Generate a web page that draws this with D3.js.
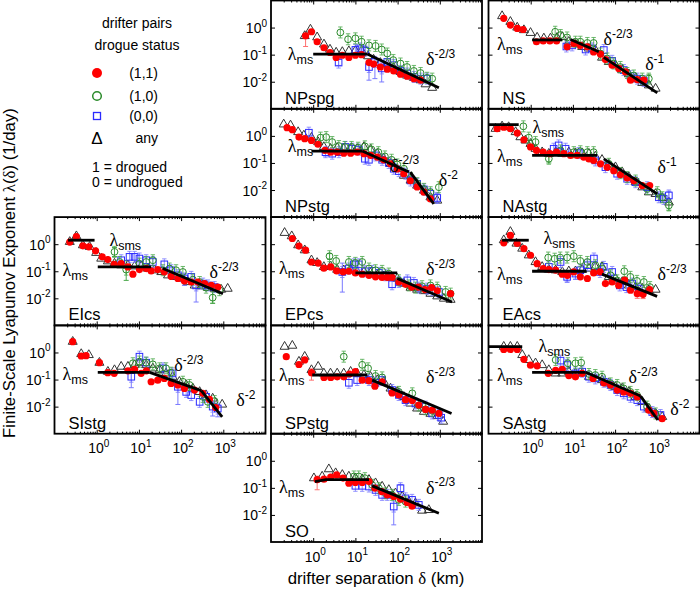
<!DOCTYPE html>
<html><head><meta charset="utf-8">
<script src="https://cdn.jsdelivr.net/npm/d3@7"></script>
<style>body{margin:0;background:#fff}svg{display:block}text{font-family:"Liberation Sans",Arial,sans-serif}</style>
</head><body>
<svg id="chart" width="700" height="594"></svg>
<script>
// ---------- tick labels ----------
const xTickVals = [1, 10, 100, 1000];
const xTickExps = ["0", "1", "2", "3"];
const yTickVals = [1, 0.1, 0.01];
const yTickExps = ["0", "-1", "-2"];

// ---------- data: [delta (km), lambda (1/day)] ----------
const NPspg_any = [[0.63,0.49],[0.86,0.85],[1.24,0.44],[1.8,0.24],[2.5,0.155],[3.5,0.12],[4.9,0.126],[7,0.135],[10,0.14],[14,0.14],[20,0.088],[27,0.066],[39,0.05],[57,0.045],[81,0.032],[117,0.023],[168,0.017],[243,0.014],[350,0.0114],[460,0.0081],[660,0.006]];
const NPspg_11 = [[0.66,0.5],[0.91,0.7],[1.24,0.3],[1.8,0.18],[2.5,0.12],[3.5,0.079],[4.9,0.095],[7,0.079],[10,0.095],[14,0.1],[21,0.051],[27,0.045],[39,0.035],[57,0.029],[81,0.025],[117,0.019],[168,0.016],[243,0.013],[350,0.0114]];
const NPspg_10 = [[4.4,0.66],[6.7,0.37],[10,0.4],[14,0.3],[21,0.22],[30,0.21],[42,0.155],[57,0.11],[79,0.063],[117,0.047],[168,0.035],[243,0.025],[350,0.021],[500,0.014],[660,0.013]];
const NPspg_00 = [[4,0.051],[10,0.15],[13,0.17],[17,0.14],[21,0.035],[29,0.054],[42,0.031],[57,0.054],[81,0.041],[117,0.025],[168,0.02],[243,0.015],[350,0.013],[500,0.013]];
const NPspg_err = [["11",0.66,0.2,0.5],["00",4,0.04,0.07],["00",17,0.1,0.2],["00",21,0.0114,0.05],["00",29,0.013,0.07],["00",42,0.0098,0.045]];
const NPspg_fit = [[[1,0.105],[19,0.105]],[[19,0.105],[950,0.006]]];
const NPspg_lab = [["lam","ms",0.25,0.0625],["pow","-2/3",471,0.041]];

const NPstg_any = [[0.2,2.67],[0.29,2.45],[0.44,1.39],[0.6,1.04],[0.91,0.86],[1.31,0.59],[1.79,0.39],[2.57,0.335],[3.7,0.365],[5.3,0.335],[7.7,0.335],[11,0.335],[15.9,0.39],[22.8,0.31],[33,0.22],[47,0.143],[68,0.093],[98,0.061],[141,0.034],[203,0.0225],[290,0.0147],[420,0.0096],[600,0.0054],[870,0.0041]];
const NPstg_11 = [[0.24,2.0],[0.32,1.7],[0.46,0.9],[0.63,0.79],[0.91,0.68],[1.3,0.49],[1.9,0.29],[2.6,0.25],[3.7,0.25],[5.3,0.23],[7.7,0.23],[11,0.25],[16,0.22],[23,0.19],[33,0.165],[47,0.13],[68,0.093],[98,0.06],[140,0.04],[200,0.022],[290,0.013],[420,0.0083],[600,0.0047]];
const NPstg_10 = [[1.49,0.86],[2.03,0.9],[2.82,0.59],[4.06,0.42],[5.6,0.39],[8.1,0.39],[11.6,0.365],[16.8,0.41],[24,0.316],[35,0.25],[50,0.174],[72,0.131],[98,0.088],[141,0.061],[203,0.028],[290,0.0178],[420,0.011],[600,0.0083],[950,0.0127]];
const NPstg_00 = [[0.79,1.31],[1.96,0.25],[2.82,0.22],[4.06,0.25],[5.8,0.39],[8.4,0.335],[12.1,0.31],[16.8,0.143],[20.9,0.131],[30,0.19],[43,0.131],[62,0.1],[81,0.061],[107,0.05],[154,0.04],[203,0.0225],[290,0.017],[420,0.0105],[600,0.0072],[870,0.0051]];
const NPstg_err = [["00",1.96,0.18,0.33],["00",870,0.0035,0.0075]];
const NPstg_fit = [[[0.91,0.275],[14.5,0.275]],[[14.5,0.275],[185,0.046]],[[200,0.046],[720,0.0031]]];
const NPstg_lab = [["lam","ms",0.25,0.245],["pow","-2/3",66,0.048],["pow","-2",950,0.0135]];

const NS_any = [[0.21,2.67],[0.33,1.64],[0.48,1.01],[0.69,0.81],[0.99,0.64],[1.42,0.43],[2.05,0.4],[2.94,0.4],[4.2,0.42],[5.6,0.45],[8,0.3],[11.5,0.245],[16.6,0.195],[24,0.169],[34,0.147],[49,0.078],[71,0.054],[102,0.041],[147,0.0267],[212,0.019],[305,0.0131],[440,0.0091],[630,0.0074],[910,0.0056]];
const NS_11 = [[0.23,2.2],[0.33,1.24],[0.48,0.93],[0.66,0.85],[1.37,0.3],[1.98,0.32],[2.85,0.32],[4.1,0.32],[7.3,0.195],[10.6,0.26],[15,0.22],[22,0.195],[31,0.126],[45,0.105],[59,0.066],[85,0.041],[122,0.031],[176,0.023],[232,0.0114],[335,0.012],[480,0.0114]];
const NS_10 = [[3.8,0.7],[5.1,0.53],[7.3,0.43],[11.5,0.3],[15,0.3],[22,0.27],[31,0.27],[45,0.11],[65,0.072],[93,0.047],[133,0.035],[193,0.021],[277,0.017],[440,0.013],[630,0.013]];
const NS_00 = [[7,0.2],[9.6,0.22],[20,0.155],[28.6,0.17],[54,0.148],[85,0.059],[160,0.027],[232,0.016],[335,0.013],[480,0.0107]];
const NS_err = [["10",630,0.009,0.018]];
const NS_fit = [[[1.08,0.35],[5.6,0.35]],[[8.8,0.36],[41,0.127]],[[54,0.079],[1000,0.0039]]];
const NS_lab = [["lam","ms",0.16,0.147],["pow","-2/3",53,0.225],["pow","-1",515,0.026]];

const NAstg_any = [[0.147,1.84],[0.21,2.25],[0.3,2.12],[0.44,1.39],[0.57,0.9],[0.75,0.68],[0.99,0.51],[1.3,0.335],[1.87,0.25],[2.69,0.22],[3.9,0.25],[5.6,0.22],[8,0.25],[11.5,0.231],[16.6,0.231],[24,0.22],[34,0.174],[49,0.131],[71,0.088],[102,0.07],[147,0.046],[212,0.03],[305,0.0195],[440,0.0127],[630,0.0083],[910,0.0072],[1310,0.0051],[1880,0.0035]];
const NAstg_11 = [[0.16,1.85],[0.23,2.1],[0.33,1.85],[0.48,1.27],[0.69,0.72],[0.99,0.39],[1.37,0.29],[1.98,0.25],[2.85,0.22],[4.1,0.25],[6.1,0.22],[8.8,0.19],[12.6,0.19],[18,0.165],[24,0.14],[31,0.123],[45,0.093],[65,0.069],[93,0.052],[134,0.037],[193,0.028],[277,0.022],[440,0.0147],[660,0.0147]];
const NAstg_10 = [[0.67,2.25],[0.9,0.86],[1.3,0.59],[2.69,0.143],[5.1,0.29],[10.5,0.25],[15,0.27],[22,0.25],[31,0.25],[71,0.093],[134,0.042],[193,0.03],[305,0.0224],[575,0.011],[1000,0.0083],[1310,0.0054],[1880,0.0027]];
const NAstg_00 = [[3.5,0.335],[4.6,0.445],[6.7,0.335],[13.8,0.231],[34,0.124],[59,0.07],[112,0.04],[193,0.026],[305,0.0195],[575,0.0127],[1090,0.0054],[1420,0.0047],[1880,0.0063]];
const NAstg_err = [["10",2.69,0.1,0.2],["10",1880,0.0018,0.004],["00",1880,0.0045,0.009]];
const NAstg_fit = [[[0.1,2.6],[0.52,2.6]],[[1.08,0.19],[37.5,0.19]],[[54,0.142],[1000,0.0072]]];
const NAstg_lab = [["lam","sms",1.1,1.24],["lam","ms",0.16,0.105],["pow","-1",1010,0.041]];

const EIcs_any = [[0.23,1.22],[0.33,1.98],[0.47,0.92],[0.68,0.8],[0.97,0.48],[1.28,0.295],[1.84,0.234],[2.64,0.192],[3.8,0.167],[5.5,0.167],[7.9,0.153],[11.3,0.153],[16.3,0.126],[23.5,0.109],[34,0.094],[49,0.071],[70,0.062],[100,0.054],[145,0.04],[210,0.03],[300,0.028],[430,0.0248],[620,0.0228],[890,0.021],[1270,0.0228]];
const EIcs_11 = [[0.23,1.2],[0.33,1.9],[0.47,0.87],[0.65,0.8],[0.94,0.57],[1.35,0.34],[1.83,0.27],[2.6,0.18],[3.8,0.19],[5.5,0.145],[7.2,0.078],[10.3,0.115],[15,0.126],[19.5,0.103],[28,0.115],[40,0.095],[58,0.065],[84,0.054],[120,0.044],[175,0.04],[250,0.04],[360,0.035],[520,0.03],[740,0.026]];
const EIcs_10 = [[2.64,0.52],[3.5,0.22],[5,0.115],[10.3,0.19],[14.9,0.22],[21.4,0.255],[37,0.109],[53,0.126],[76,0.109],[110,0.094],[190,0.049],[275,0.04],[390,0.0248],[560,0.0106],[810,0.02]];
const EIcs_00 = [[3.8,0.255],[6,0.34],[7.9,0.34],[10.3,0.295],[14.9,0.255],[21.4,0.22],[40,0.18],[58,0.109],[84,0.071],[120,0.054],[174,0.062],[227,0.03],[330,0.035],[430,0.03],[620,0.026]];
const EIcs_err = [["10",5,0.046,0.25],["10",560,0.0065,0.022],["00",227,0.0073,0.045],["00",120,0.03,0.08],["10",2.64,0.35,0.75]];
const EIcs_fit = [[[0.21,1.4],[0.89,1.4]],[[1.06,0.145],[19.5,0.145]],[[37,0.126],[980,0.0148]]];
const EIcs_lab = [["lam","sms",2.0,0.84],["lam","ms",0.155,0.065],["pow","-2/3",471,0.055]];

const SIstg_any = [[0.27,2.5],[0.43,0.88],[0.65,0.81],[1.16,0.42],[1.84,0.195],[2.64,0.225],[3.8,0.3],[5.5,0.3],[7.9,0.344],[10.3,0.42],[14.9,0.344],[21.4,0.26],[31,0.225],[44,0.169],[63,0.127],[91,0.083],[132,0.063],[190,0.047],[275,0.035],[390,0.0267],[560,0.02],[940,0.012]];
const SIstg_11 = [[0.27,2.5],[0.43,0.74],[0.56,0.76],[1.16,0.42],[1.83,0.18],[2.6,0.17],[5.5,0.21],[7.9,0.24],[11.3,0.17],[15,0.21],[19.5,0.083],[28,0.095],[40,0.11],[58,0.072],[84,0.063],[120,0.047],[208,0.041],[327,0.031],[470,0.0185],[660,0.0093]];
const SIstg_10 = [[7.2,0.4],[10.3,0.46],[14.9,0.42],[21.4,0.365],[31,0.26],[44,0.26],[58,0.179],[110,0.083],[158,0.063],[327,0.023],[430,0.015],[620,0.016]];
const SIstg_00 = [[6.6,0.127],[10.3,0.7],[14.9,0.42],[37,0.26],[63,0.169],[84,0.054],[132,0.035],[174,0.0267],[275,0.015],[390,0.023],[560,0.01],[740,0.0085]];
const SIstg_err = [["00",6.6,0.05,0.2],["00",84,0.012,0.08],["00",560,0.0045,0.014],["00",740,0.0042,0.012]];
const SIstg_fit = [[[1.06,0.185],[18,0.185]],[[18,0.185],[300,0.039]],[[300,0.039],[940,0.0042]]];
const SIstg_lab = [["lam","ms",0.155,0.095],["pow","-2/3",69,0.206],["pow","-2",2040,0.0104]];

const EPcs_any = [[0.21,2.63],[0.31,1.98],[0.44,0.92],[0.63,0.6],[0.91,0.255],[1.24,0.204],[1.79,0.145],[2.57,0.153],[3.7,0.115],[5.3,0.109],[7.7,0.115],[11,0.094],[15.9,0.094],[22.8,0.087],[33,0.071],[47,0.065],[68,0.058],[98,0.054],[141,0.035],[203,0.0248],[290,0.021],[420,0.0186],[600,0.0149],[870,0.0119],[1250,0.0098],[1800,0.0089]];
const EPcs_11 = [[0.32,1.62],[0.46,0.85],[0.66,0.6],[0.91,0.22],[1.31,0.2],[1.79,0.13],[2.6,0.145],[3.6,0.103],[5.1,0.095],[7,0.1],[10,0.087],[14.5,0.078],[21,0.071],[30,0.062],[43,0.059],[57,0.059],[74,0.059],[107,0.04],[154,0.033],[215,0.026],[310,0.026],[445,0.021],[640,0.025],[870,0.019],[1800,0.0148]];
const EPcs_10 = [[2.44,0.36],[3.5,0.24],[7,0.22],[10,0.204],[14.5,0.22],[21,0.126],[30,0.109],[43,0.103],[62,0.082],[107,0.046],[185,0.03],[265,0.0248],[380,0.028],[600,0.03],[870,0.0248],[1370,0.0172],[1800,0.0149]];
const EPcs_00 = [[4.9,0.094],[7,0.126],[9.2,0.18],[12,0.18],[16.8,0.1],[25,0.103],[36,0.087],[52,0.071],[74,0.033],[107,0.04],[170,0.046],[243,0.037],[318,0.0248],[500,0.0228],[660,0.02],[950,0.0172]];
const EPcs_err = [["00",4.9,0.017,0.2],["10",2.44,0.28,0.45]];
const EPcs_fit = [[[10,0.087],[98,0.087]],[[98,0.054],[1950,0.0073]]];
const EPcs_lab = [["lam","ms",0.155,0.076],["pow","-2/3",471,0.071]];

const SPstg_any = [[0.21,1.64],[0.32,1.79],[0.46,0.46],[0.63,0.7],[0.91,0.225],[1.31,0.3],[1.79,0.169],[2.57,0.169],[3.7,0.169],[5.3,0.169],[7.7,0.195],[11,0.169],[15.9,0.147],[22.8,0.127],[33,0.096],[47,0.083],[68,0.047],[98,0.035],[141,0.023],[203,0.0131],[290,0.0086],[420,0.0065],[600,0.0055],[870,0.0045],[1200,0.0028]];
const SPstg_11 = [[0.23,0.7],[0.46,0.36],[0.63,0.53],[0.91,0.18],[1.8,0.12],[2.6,0.12],[3.7,0.126],[5.3,0.126],[7.2,0.16],[10,0.195],[14.5,0.095],[21,0.091],[29,0.057],[43,0.083],[74,0.032],[107,0.027],[154,0.018],[223,0.017],[318,0.0114],[460,0.0079],[660,0.0074],[950,0.0056]];
const SPstg_10 = [[5.3,0.7],[14.5,0.35],[20,0.26],[30,0.135],[43,0.12],[107,0.035],[223,0.031],[318,0.011],[460,0.008],[660,0.007]];
const SPstg_00 = [[7,0.076],[11,0.096],[21,0.096],[30,0.076],[43,0.096],[74,0.041],[107,0.027],[154,0.0174],[265,0.0131],[460,0.01],[660,0.0056],[950,0.0049],[1080,0.0039]];
const SPstg_err = [["11",0.91,0.095,0.25]];
const SPstg_fit = [[[0.95,0.147],[19,0.147]],[[25,0.095],[1900,0.0056]]];
const SPstg_lab = [["lam","ms",0.155,0.088],["pow","-2/3",471,0.074]];

const SAstg_any = [[0.23,1.64],[0.33,1.64],[0.48,1.64],[0.63,0.81],[0.9,0.53],[1.3,0.4],[1.87,0.344],[2.69,0.225],[3.9,0.169],[5.6,0.169],[8,0.195],[11.5,0.169],[16.6,0.169],[24,0.127],[34,0.11],[49,0.096],[71,0.072],[102,0.054],[147,0.047],[212,0.035],[305,0.023],[440,0.015],[630,0.0085],[910,0.0056],[1310,0.0042]];
const SAstg_11 = [[0.23,1.3],[0.33,1.3],[0.48,1.3],[0.69,0.56],[0.99,0.34],[1.42,0.32],[2.6,0.17],[3.9,0.22],[5.6,0.24],[8,0.14],[11.5,0.126],[16.5,0.17],[30,0.11],[54,0.076],[78,0.063],[112,0.041],[160,0.035],[232,0.031],[335,0.023],[630,0.0074],[830,0.0056],[1300,0.0036]];
const SAstg_10 = [[3.9,0.53],[7.6,0.4],[11.5,0.4],[15.7,0.42],[24,0.16],[34,0.147],[49,0.127],[78,0.072],[112,0.063],[160,0.047],[230,0.035],[330,0.0267],[575,0.01],[910,0.0056]];
const SAstg_00 = [[5.1,0.5],[7.3,0.344],[11.5,0.169],[16.6,0.195],[24,0.127],[34,0.11],[54,0.083],[78,0.063],[112,0.041],[160,0.031],[232,0.023],[335,0.0174],[480,0.01],[760,0.0063],[1190,0.0049]];
const SAstg_err = [];
const SAstg_fit = [[[0.1,1.65],[0.63,1.65]],[[1.08,0.185],[20,0.185]],[[20,0.185],[400,0.0245]],[[400,0.0245],[1030,0.0032]]];
const SAstg_lab = [["lam","sms",1.53,1.04],["lam","ms",0.16,0.088],["pow","-2/3",208,0.074],["pow","-2",2040,0.0049]];

const EAcs_any = [[0.23,1.41],[0.33,2.86],[0.46,1.06],[0.63,0.69],[0.9,0.39],[1.3,0.22],[1.87,0.145],[2.69,0.115],[3.9,0.109],[5.6,0.094],[8,0.1],[11.5,0.1],[16.6,0.115],[24,0.126],[34,0.145],[49,0.145],[71,0.062],[102,0.054],[147,0.04],[212,0.03],[305,0.026],[440,0.023],[630,0.02],[910,0.021]];
const EAcs_11 = [[0.23,1.12],[0.33,2.1],[0.48,1.06],[0.69,0.69],[0.99,0.39],[1.42,0.19],[1.98,0.126],[2.7,0.115],[3.9,0.11],[5.6,0.078],[7.4,0.071],[10.5,0.095],[15,0.062],[22,0.054],[31,0.087],[44,0.095],[59,0.035],[85,0.04],[122,0.03],[168,0.047],[232,0.02],[335,0.0148],[460,0.0141],[660,0.021]];
const EAcs_10 = [[2.6,0.32],[3.7,0.29],[5,0.32],[7.3,0.32],[10.5,0.36],[15,0.24],[22,0.22],[34,0.167],[49,0.126],[78,0.071],[112,0.046],[165,0.1],[230,0.062],[330,0.044],[480,0.04],[670,0.026]];
const EAcs_00 = [[2.69,0.145],[5.1,0.22],[7.3,0.062],[11.5,0.082],[15,0.109],[22,0.167],[31.5,0.295],[44,0.094],[54,0.145],[85,0.094],[129,0.03],[186,0.026],[253,0.035],[365,0.023]];
const EAcs_err = [["00",7.3,0.04,0.1],["00",11.5,0.05,0.11],["11",335,0.01,0.02],["11",460,0.0098,0.02]];
const EAcs_fit = [[[0.21,1.4],[0.9,1.4]],[[1.08,0.1],[21,0.1]],[[49,0.078],[990,0.0118]]];
const EAcs_lab = [["lam","sms",2.0,1.0],["lam","ms",0.16,0.047],["pow","-2/3",1010,0.047]];

const SO_any = [[1.04,0.228],[1.63,0.263],[2.35,0.49],[3.4,0.35],[4.9,0.303],[7,0.263],[10,0.228],[14.5,0.21],[21,0.198],[30,0.149],[43,0.112],[62,0.084],[89,0.063],[129,0.048],[185,0.031],[265,0.027],[380,0.0145],[550,0.0153]];
const SO_11 = [[1.24,0.2],[1.8,0.21],[2.6,0.25],[3.6,0.3],[5.1,0.23],[7,0.148],[10,0.158],[14.5,0.158],[21,0.17],[29,0.098],[42,0.073],[57,0.055],[81,0.048],[117,0.038],[168,0.029],[220,0.021]];
const SO_10 = [[9.2,0.263],[12,0.263],[16.8,0.228],[25,0.129],[36,0.097],[52,0.063],[74,0.055],[107,0.036],[154,0.031]];
const SO_00 = [[10,0.119],[14.5,0.119],[21,0.112],[30,0.084],[43,0.055],[57,0.055],[81,0.0204],[117,0.097],[154,0.041],[220,0.036],[318,0.0235]];
const SO_err = [["11",1.24,0.085,0.27],["00",81,0.0043,0.055],["00",117,0.07,0.13]];
const SO_fit = [[[1.1,0.17],[2,0.2],[21,0.2]],[[25,0.118],[950,0.0115]]];
const SO_lab = [["lam","ms",0.155,0.065],["pow","-2/3",471,0.06]];

// ---------- layout ----------
const svg = d3.select("#chart");
const W = 211, H = 108.3;
const colL = [54.5, 271, 488.5];
const rowT = [0.5, 108.8, 217.1, 325.4, 433.7];
const SERIF = '"Liberation Serif","Times New Roman",serif';
const C = {r:"#ff0000", g:"#2a8a2a", gl:"#4aa84a", b:"#2b2bff", bl:"#7a7aff", rl:"#ff7070", k:"#333"};

const panels = [
  {n:"NPspg", c:1, r:0, any:NPspg_any, s11:NPspg_11, s10:NPspg_10, s00:NPspg_00, err:NPspg_err, fit:NPspg_fit, lab:NPspg_lab, yl:true,  xl:false},
  {n:"NS",    c:2, r:0, any:NS_any,    s11:NS_11,    s10:NS_10,    s00:NS_00,    err:NS_err,    fit:NS_fit,    lab:NS_lab,    yl:false, xl:false},
  {n:"NPstg", c:1, r:1, any:NPstg_any, s11:NPstg_11, s10:NPstg_10, s00:NPstg_00, err:NPstg_err, fit:NPstg_fit, lab:NPstg_lab, yl:true,  xl:false},
  {n:"NAstg", c:2, r:1, any:NAstg_any, s11:NAstg_11, s10:NAstg_10, s00:NAstg_00, err:NAstg_err, fit:NAstg_fit, lab:NAstg_lab, yl:false, xl:false},
  {n:"EIcs",  c:0, r:2, any:EIcs_any,  s11:EIcs_11,  s10:EIcs_10,  s00:EIcs_00,  err:EIcs_err,  fit:EIcs_fit,  lab:EIcs_lab,  yl:true,  xl:false},
  {n:"EPcs",  c:1, r:2, any:EPcs_any,  s11:EPcs_11,  s10:EPcs_10,  s00:EPcs_00,  err:EPcs_err,  fit:EPcs_fit,  lab:EPcs_lab,  yl:false, xl:false},
  {n:"EAcs",  c:2, r:2, any:EAcs_any,  s11:EAcs_11,  s10:EAcs_10,  s00:EAcs_00,  err:EAcs_err,  fit:EAcs_fit,  lab:EAcs_lab,  yl:false, xl:false},
  {n:"SIstg", c:0, r:3, any:SIstg_any, s11:SIstg_11, s10:SIstg_10, s00:SIstg_00, err:SIstg_err, fit:SIstg_fit, lab:SIstg_lab, yl:true,  xl:true},
  {n:"SPstg", c:1, r:3, any:SPstg_any, s11:SPstg_11, s10:SPstg_10, s00:SPstg_00, err:SPstg_err, fit:SPstg_fit, lab:SPstg_lab, yl:false, xl:false},
  {n:"SAstg", c:2, r:3, any:SAstg_any, s11:SAstg_11, s10:SAstg_10, s00:SAstg_00, err:SAstg_err, fit:SAstg_fit, lab:SAstg_lab, yl:false, xl:true},
  {n:"SO",    c:1, r:4, any:SO_any,    s11:SO_11,    s10:SO_10,    s00:SO_00,    err:SO_err,    fit:SO_fit,    lab:SO_lab,    yl:true,  xl:true}
];

function tenPow(g, px, py, e, anchor) {
  const t = g.append("text").attr("x", px).attr("y", py).attr("text-anchor", anchor).attr("font-size", 14);
  t.append("tspan").text("10");
  t.append("tspan").attr("dy", -6.5).attr("font-size", 10).text(e);
}

const triPath = "M0,-5.2L4.5,2.6L-4.5,2.6Z";
const whisk = "M0,-5.5V5.5M-2.2,-5.5H2.2M-2.2,5.5H2.2";

panels.forEach(p => {
  const L = colL[p.c], T = rowT[p.r];
  const x = d3.scaleLog().domain([0.1, 1e4]).range([L, L + W]);
  const y = d3.scaleLog().domain([1e-3, 10]).range([T + H, T]);
  const g = svg.append("g");
  const minor = x.ticks().filter(v => Math.abs(Math.log10(v) - Math.round(Math.log10(v))) > 1e-6);
  const noDom = a => a.select(".domain").remove();
  // x ticks (inward, top and bottom)
  g.append("g").attr("transform", `translate(0,${T + H})`).call(d3.axisBottom(x).tickValues(xTickVals).tickSize(-4).tickFormat("")).call(noDom);
  g.append("g").attr("transform", `translate(0,${T + H})`).call(d3.axisBottom(x).tickValues(minor).tickSize(-2).tickFormat("")).call(noDom);
  g.append("g").attr("transform", `translate(0,${T})`).call(d3.axisTop(x).tickValues(xTickVals).tickSize(-4).tickFormat("")).call(noDom);
  g.append("g").attr("transform", `translate(0,${T})`).call(d3.axisTop(x).tickValues(minor).tickSize(-2).tickFormat("")).call(noDom);
  // y ticks (inward, left and right)
  g.append("g").attr("transform", `translate(${L},0)`).call(d3.axisLeft(y).tickValues(yTickVals).tickSize(-4).tickFormat("")).call(noDom);
  g.append("g").attr("transform", `translate(${L + W},0)`).call(d3.axisRight(y).tickValues(yTickVals).tickSize(-4).tickFormat("")).call(noDom);

  // error bars
  const ecol = {"11": C.rl, "10": C.gl, "00": C.bl};
  p.err.forEach(e => {
    const ex = x(e[1]);
    g.append("path").attr("d", `M${ex},${y(e[2])}V${y(e[3])}M${ex - 2.5},${y(e[2])}H${ex + 2.5}M${ex - 2.5},${y(e[3])}H${ex + 2.5}`)
      .attr("stroke", ecol[e[0]]).attr("stroke-width", 1).attr("fill", "none");
  });
  // triangles (any)
  g.append("g").selectAll("path").data(p.any).join("path").attr("d", triPath)
    .attr("transform", d => `translate(${x(d[0])},${y(d[1])})`)
    .attr("fill", "none").attr("stroke", C.k).attr("stroke-width", 1);
  // blue squares (0,0)
  const gb = g.append("g").selectAll("g").data(p.s00).join("g").attr("transform", d => `translate(${x(d[0])},${y(d[1])})`);
  gb.append("path").attr("d", whisk).attr("stroke", C.bl).attr("stroke-width", 0.8).attr("fill", "none");
  gb.append("rect").attr("x", -3.3).attr("y", -3.3).attr("width", 6.6).attr("height", 6.6).attr("fill", "none").attr("stroke", C.b).attr("stroke-width", 1);
  // green circles (1,0)
  const gg = g.append("g").selectAll("g").data(p.s10).join("g").attr("transform", d => `translate(${x(d[0])},${y(d[1])})`);
  gg.append("path").attr("d", whisk).attr("stroke", C.gl).attr("stroke-width", 0.8).attr("fill", "none");
  gg.append("circle").attr("r", 3.4).attr("fill", "none").attr("stroke", C.g).attr("stroke-width", 1);
  // red filled circles (1,1)
  g.append("g").selectAll("circle").data(p.s11).join("circle")
    .attr("cx", d => x(d[0])).attr("cy", d => y(d[1])).attr("r", 3.6).attr("fill", C.r);
  // fit lines
  const line = d3.line().x(d => x(d[0])).y(d => y(d[1]));
  g.append("g").selectAll("path").data(p.fit).join("path").attr("d", line)
    .attr("fill", "none").attr("stroke", "#000").attr("stroke-width", 2.8);
  // frame
  g.append("rect").attr("x", L).attr("y", T).attr("width", W).attr("height", H)
    .attr("fill", "none").attr("stroke", "#000").attr("stroke-width", 1.8);
  // annotations
  p.lab.forEach(a => {
    const t = g.append("text").attr("x", x(a[2])).attr("y", y(a[3]));
    if (a[0] === "lam") {
      t.append("tspan").attr("font-family", SERIF).attr("font-size", 18).text("λ");
      t.append("tspan").attr("font-size", 12.5).attr("dy", 4).text(a[1]);
    } else {
      t.append("tspan").attr("font-family", SERIF).attr("font-size", 18).text("δ");
      t.append("tspan").attr("font-size", 12).attr("dy", -7.5).text(a[1]);
    }
  });
  g.append("text").attr("x", L + 14).attr("y", T + H - 5).attr("font-size", 16.5).text(p.n);
  // tick labels
  if (p.yl) yTickVals.forEach((v, i) => tenPow(g, L - 4, y(v) + 5.5, yTickExps[i], "end"));
  if (p.xl) xTickVals.forEach((v, i) => tenPow(g, x(v) + 2, T + H + 19.5, xTickExps[i], "middle"));
});

// ---------- axis titles ----------
const yt = svg.append("text").attr("transform", "translate(15,273) rotate(-90)").attr("text-anchor", "middle").attr("font-size", 16.8);
yt.append("tspan").text("Finite-Scale Lyapunov Exponent  ");
yt.append("tspan").attr("font-family", SERIF).text("λ");
yt.append("tspan").text("(");
yt.append("tspan").attr("font-family", SERIF).text("δ");
yt.append("tspan").text(") (1/day)");

const xt = svg.append("text").attr("x", 376).attr("y", 584).attr("text-anchor", "middle").attr("font-size", 16.8);
xt.append("tspan").text("drifter separation  ");
xt.append("tspan").attr("font-family", SERIF).text("δ");
xt.append("tspan").text(" (km)");

// ---------- legend ----------
const lg = svg.append("g").attr("font-size", 14);
lg.append("text").attr("x", 137).attr("y", 27.5).attr("text-anchor", "middle").text("drifter pairs");
lg.append("text").attr("x", 137).attr("y", 49.5).attr("text-anchor", "middle").text("drogue status");
lg.append("circle").attr("cx", 97).attr("cy", 73).attr("r", 5).attr("fill", C.r);
lg.append("circle").attr("cx", 97).attr("cy", 96).attr("r", 4.3).attr("fill", "none").attr("stroke", C.g).attr("stroke-width", 1.5);
lg.append("rect").attr("x", 93.5).attr("y", 112.5).attr("width", 7).attr("height", 7).attr("fill", "none").attr("stroke", C.b).attr("stroke-width", 1.3);
lg.append("text").attr("x", 97).attr("y", 144).attr("text-anchor", "middle").attr("font-family", SERIF).attr("font-size", 17).text("Δ");
const legLab = ["(1,1)", "(1,0)", "(0,0)", "any"];
const legY = [77.5, 100.5, 120.5, 142.5];
legLab.forEach((s, i) => lg.append("text").attr("x", 158).attr("y", legY[i]).attr("text-anchor", "end").text(s));
lg.append("text").attr("x", 92).attr("y", 172).text("1 = drogued");
lg.append("text").attr("x", 92).attr("y", 187).text("0 = undrogued");
</script>
</body></html>
